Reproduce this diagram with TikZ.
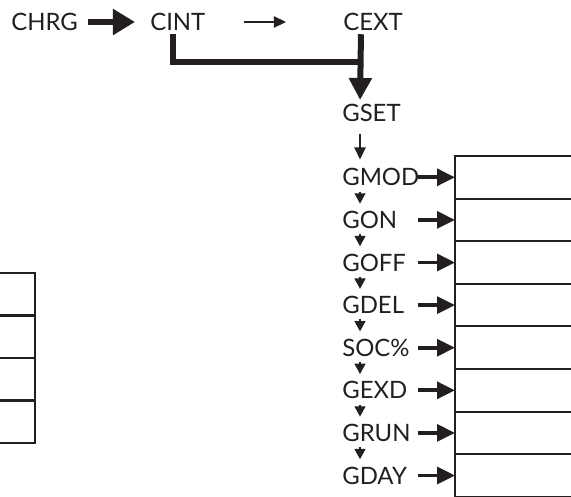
\documentclass[tikz,border=0pt]{standalone}
\usepackage{fontspec}
\setmainfont{Lato}
\usetikzlibrary{positioning,arrows.meta}
\definecolor{inkgray}{RGB}{35,31,32}

\begin{document}
\begin{tikzpicture}[
        x=0.025cm, y=-0.025cm,
        % Text styles
        plain/.style={inner sep=0pt, text=inkgray, font=\fontsize{17}{20}\selectfont, anchor=west},
        reglabel/.style={plain, text width=1.875cm, align=left},
        % Register boxes
        regbox/.style={draw=inkgray, line width=1.4pt, minimum width=3.5cm, minimum height=1.065cm, inner sep=0pt, outer sep=0pt},
        leftbox/.style={regbox, line width=1.8pt, minimum height=1.0625cm},
        % Arrow styles
        fatarrow/.style={-{Triangle[length=0.55cm, width=0.62cm]}, line width=0.14cm, draw=inkgray},
        fatline/.style={line width=0.15cm, draw=inkgray},
        thinarrow/.style={-{Triangle[length=0.3cm, width=0.28cm]}, line width=1.1pt, draw=inkgray},
        sidearrow/.style={-{Triangle[length=0.45cm, width=0.42cm]}, line width=2.6pt, draw=inkgray},
        downarrow/.style={-{Triangle[length=0.26cm, width=0.27cm]}, line width=1.4pt, draw=inkgray, shorten <=0.13cm, shorten >=0.18cm}
    ]
    \useasboundingbox (0,0) rectangle (571,496);
    \clip (0,0) rectangle (571,496);

    % Top row: charge sources
    \node[plain] (chrg) at (11,22) {CHRG};
    \node[plain] (cint) at (150,22) {CINT};
    \node[plain] (cext) at (343,22) {CEXT};
    \node[plain] (gset) at (342,113) {GSET};
    \coordinate (join) at (361,62);

    \draw[fatarrow, shorten <=0.25cm, shorten >=0.375cm] (chrg.east) -- (cint.west);
    \draw[thinarrow, shorten <=0.95cm, shorten >=1.425cm] (cint.east) -- (cext.west);
    \draw[fatline, shorten <=0.08cm] ([xshift=0.575cm]cint.south west) |- (join);
    \draw[fatline, -{Triangle[length=0.55cm, width=0.55cm]}, shorten <=0.08cm, shorten >=0.1cm] ([xshift=0.45cm]cext.south west) -- ([xshift=0.45cm]gset.north west);

    % Register boxes on the right
    \node[regbox, anchor=north west] (r1) at (455,156) {};
    \node[regbox, below=0pt of r1] (r2) {};
    \node[regbox, below=0pt of r2] (r3) {};
    \node[regbox, below=0pt of r3] (r4) {};
    \node[regbox, below=0pt of r4] (r5) {};
    \node[regbox, below=0pt of r5] (r6) {};
    \node[regbox, below=0pt of r6] (r7) {};
    \node[regbox, below=0pt of r7] (r8) {};

    % Register boxes on the left
    \node[leftbox, anchor=north east] (l1) at (35,273) {};
    \node[leftbox, below=0pt of l1] (l2) {};
    \node[leftbox, below=0pt of l2] (l3) {};
    \node[leftbox, below=0pt of l3] (l4) {};

    % Setting labels
    \node[reglabel] (gmod) at (342,177.3) {GMOD};
    \node[reglabel] (gon) at (342,219.9) {GON};
    \node[reglabel] (goff) at (342,262.5) {GOFF};
    \node[reglabel] (gdel) at (342,305.1) {GDEL};
    \node[reglabel] (soc) at (342,347.7) {SOC\%};
    \node[reglabel] (gexd) at (342,390.3) {GEXD};
    \node[reglabel] (grun) at (342,432.9) {GRUN};
    \node[reglabel] (gday) at (342,475.5) {GDAY};

    \draw[thinarrow, shorten <=0.3cm, shorten >=0.22cm] ([xshift=0.45cm]gset.south west) -- ([xshift=0.45cm]gmod.north west);

    % Chain down the labels
    \draw[downarrow] ([xshift=0.45cm]gmod.south west) -- ([xshift=0.45cm]gon.north west);
    \draw[downarrow] ([xshift=0.45cm]gon.south west) -- ([xshift=0.45cm]goff.north west);
    \draw[downarrow] ([xshift=0.45cm]goff.south west) -- ([xshift=0.45cm]gdel.north west);
    \draw[downarrow] ([xshift=0.45cm]gdel.south west) -- ([xshift=0.45cm]soc.north west);
    \draw[downarrow] ([xshift=0.45cm]soc.south west) -- ([xshift=0.45cm]gexd.north west);
    \draw[downarrow] ([xshift=0.45cm]gexd.south west) -- ([xshift=0.45cm]grun.north west);
    \draw[downarrow] ([xshift=0.45cm]grun.south west) -- ([xshift=0.45cm]gday.north west);

    % Labels into boxes
    \draw[sidearrow] (gmod.east) -- (gmod.east -| r1.west);
    \draw[sidearrow] (gon.east) -- (gon.east -| r2.west);
    \draw[sidearrow] (goff.east) -- (goff.east -| r3.west);
    \draw[sidearrow] (gdel.east) -- (gdel.east -| r4.west);
    \draw[sidearrow] (soc.east) -- (soc.east -| r5.west);
    \draw[sidearrow] (gexd.east) -- (gexd.east -| r6.west);
    \draw[sidearrow] (grun.east) -- (grun.east -| r7.west);
    \draw[sidearrow] (gday.east) -- (gday.east -| r8.west);
\end{tikzpicture}
\end{document}
